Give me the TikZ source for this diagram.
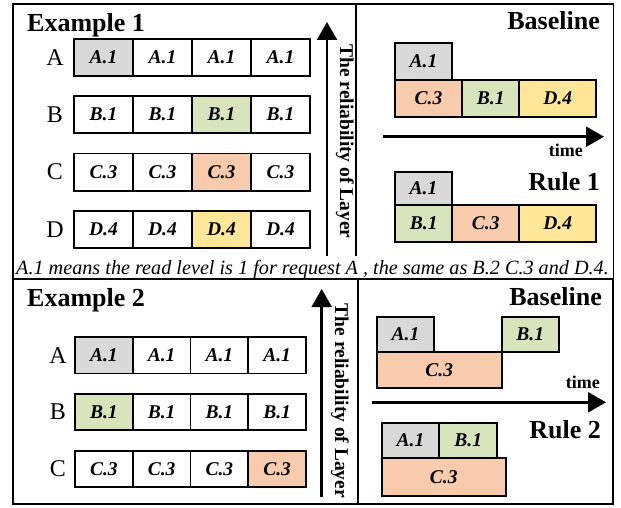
\documentclass[tikz,border=0pt]{standalone}
\usepackage{fontspec}
\setmainfont{Liberation Serif}
\usetikzlibrary{arrows.meta}
\definecolor{cellgray}{HTML}{D9D9D9}
\definecolor{cellgreen}{HTML}{D8E4BC}
\definecolor{cellpeach}{HTML}{F8CBAD}
\definecolor{cellyellow}{HTML}{FFE699}
\begin{document}
\begin{tikzpicture}[x=1pt,y=-1pt,
  cell/.style={draw, line width=1.8pt, inner sep=0pt, font=\fontsize{19.5}{20}\selectfont\bfseries\itshape},
  title/.style={font=\fontsize{26}{28}\selectfont\bfseries, inner sep=0pt},
  rowlab/.style={font=\fontsize{24}{26}\selectfont, inner sep=0pt},
  axis/.style={line width=2.5pt, -{Triangle[length=18pt,width=20pt]}},
  vlabel/.style={font=\fontsize{19.5}{20}\selectfont\bfseries, rotate=-90, inner sep=0pt},
  frame/.style={line width=1.8pt}]

  \useasboundingbox (0,0) rectangle (621,508);

  % Frames
  \draw[frame] (13,4) rectangle (613.5,279);
  \draw[frame] (13,279) rectangle (613,504);
  \draw[frame] (356,4) -- (356,256);
  \draw[frame] (358,279) -- (358,504);

  % Example 1: request grid
  \node[title, anchor=base west] (ex1) at (27,32) {Example 1};
  \foreach \r/\n/\h/\col [count=\i from 0] in {A/1/0/cellgray, B/1/2/cellgreen, C/3/2/cellpeach, D/4/2/cellyellow} {
    \node[rowlab] (e1-\r) at (55, 57.3+57.4*\i) {\r};
    \foreach \c in {0,...,3} {
      \ifnum\c=\h \def\fc{\col}\else \def\fc{white}\fi
      \node[cell, fill=\fc, minimum width=59pt, minimum height=37pt] (e1-\r\c) at (103.5+59*\c, 57.3+57.4*\i) {\r.\n};
    }
  }

  % Layer axis (upper)
  \coordinate (ax1-bot) at (327,256);
  \coordinate (ax1-top) at (327,22);
  \draw[axis] (ax1-bot) -- (ax1-top);
  \node[vlabel] (lay1) at (345,141.5) {The reliability of Layer};

  % Upper right: Baseline
  \node[title, anchor=base east] (base1) at (600,30) {Baseline};
  \node[cell, fill=cellgray, minimum width=57pt, minimum height=36.7pt] (b1-A) at (423.5,61.7) {A.1};
  \node[cell, fill=cellpeach, minimum width=67pt, minimum height=36.7pt] (b1-C) at (428.5,98.3) {C.3};
  \node[cell, fill=cellgreen, minimum width=57.3pt, minimum height=36.7pt] (b1-B) at (490.7,98.3) {B.1};
  \node[cell, fill=cellyellow, minimum width=76.7pt, minimum height=36.7pt] (b1-D) at (557.7,98.3) {D.4};

  % Time axis (upper)
  \coordinate (t1-start) at (383,136.7);
  \coordinate (t1-end) at (604,136.7);
  \draw[axis] (t1-start) -- (t1-end);
  \node[font=\fontsize{18}{20}\selectfont\bfseries, anchor=base east, inner sep=0pt] (time1) at (583,156.7) {time};

  % Upper right: Rule 1
  \node[title, anchor=base east] (rule1) at (600,190) {Rule 1};
  \node[cell, fill=cellgray, minimum width=57pt, minimum height=33.3pt] (r1-A) at (423.5,188.3) {A.1};
  \node[cell, fill=cellgreen, minimum width=57.3pt, minimum height=36.7pt] (r1-B) at (423.7,223.3) {B.1};
  \node[cell, fill=cellpeach, minimum width=67pt, minimum height=36.7pt] (r1-C) at (485.8,223.3) {C.3};
  \node[cell, fill=cellyellow, minimum width=76.7pt, minimum height=36.7pt] (r1-D) at (557.7,223.3) {D.4};

  % Note
  \node[font=\fontsize{20.2}{21}\selectfont\itshape, anchor=base west, inner sep=0pt] (note) at (16,274) {A.1 means the read level is 1 for request A , the same as B.2 C.3 and D.4.};

  % Example 2: request grid
  \node[title, anchor=base west] (ex2) at (27,306) {Example 2};
  \foreach \r/\n/\h/\col [count=\i from 0] in {A/1/0/cellgray, B/1/0/cellgreen, C/3/3/cellpeach} {
    \node[rowlab] (e2-\r) at (58, 355.3+56.8*\i) {\r};
    \foreach \c in {0,...,3} {
      \ifnum\c=\h \def\fc{\col}\else \def\fc{white}\fi
      \node[cell, fill=\fc, minimum width=57.75pt, minimum height=36.5pt] (e2-\r\c) at (103.9+57.75*\c, 355.3+56.8*\i) {\r.\n};
    }
  }

  % Layer axis (lower)
  \coordinate (ax2-bot) at (321.7,497);
  \coordinate (ax2-top) at (321.7,289);
  \draw[axis] (ax2-bot) -- (ax2-top);
  \node[vlabel] (lay2) at (340,401) {The reliability of Layer};

  % Lower right: Baseline
  \node[title, anchor=base east] (base2) at (602,305) {Baseline};
  \node[cell, fill=cellgray, minimum width=57.6pt, minimum height=34.4pt] (b2-A) at (405.5,334.5) {A.1};
  \node[cell, fill=cellgreen, minimum width=57.3pt, minimum height=34.4pt] (b2-B) at (530.3,334.5) {B.1};
  \node[cell, fill=cellpeach, minimum width=125pt, minimum height=36pt] (b2-C) at (439.2,369.7) {C.3};

  % Time axis (lower)
  \coordinate (t2-start) at (371.7,402.3);
  \coordinate (t2-end) at (606,402.3);
  \draw[axis] (t2-start) -- (t2-end);
  \node[font=\fontsize{18}{20}\selectfont\bfseries, anchor=base east, inner sep=0pt] (time2) at (600,388) {time};

  % Lower right: Rule 2
  \node[title, anchor=base east] (rule2) at (601,438) {Rule 2};
  \node[cell, fill=cellgray, minimum width=57.6pt, minimum height=35.6pt] (r2-A) at (410.5,440.5) {A.1};
  \node[cell, fill=cellgreen, minimum width=58pt, minimum height=35.6pt] (r2-B) at (468.3,440.5) {B.1};
  \node[cell, fill=cellpeach, minimum width=124.3pt, minimum height=37.4pt] (r2-C) at (443.8,477) {C.3};
\end{tikzpicture}
\end{document}
